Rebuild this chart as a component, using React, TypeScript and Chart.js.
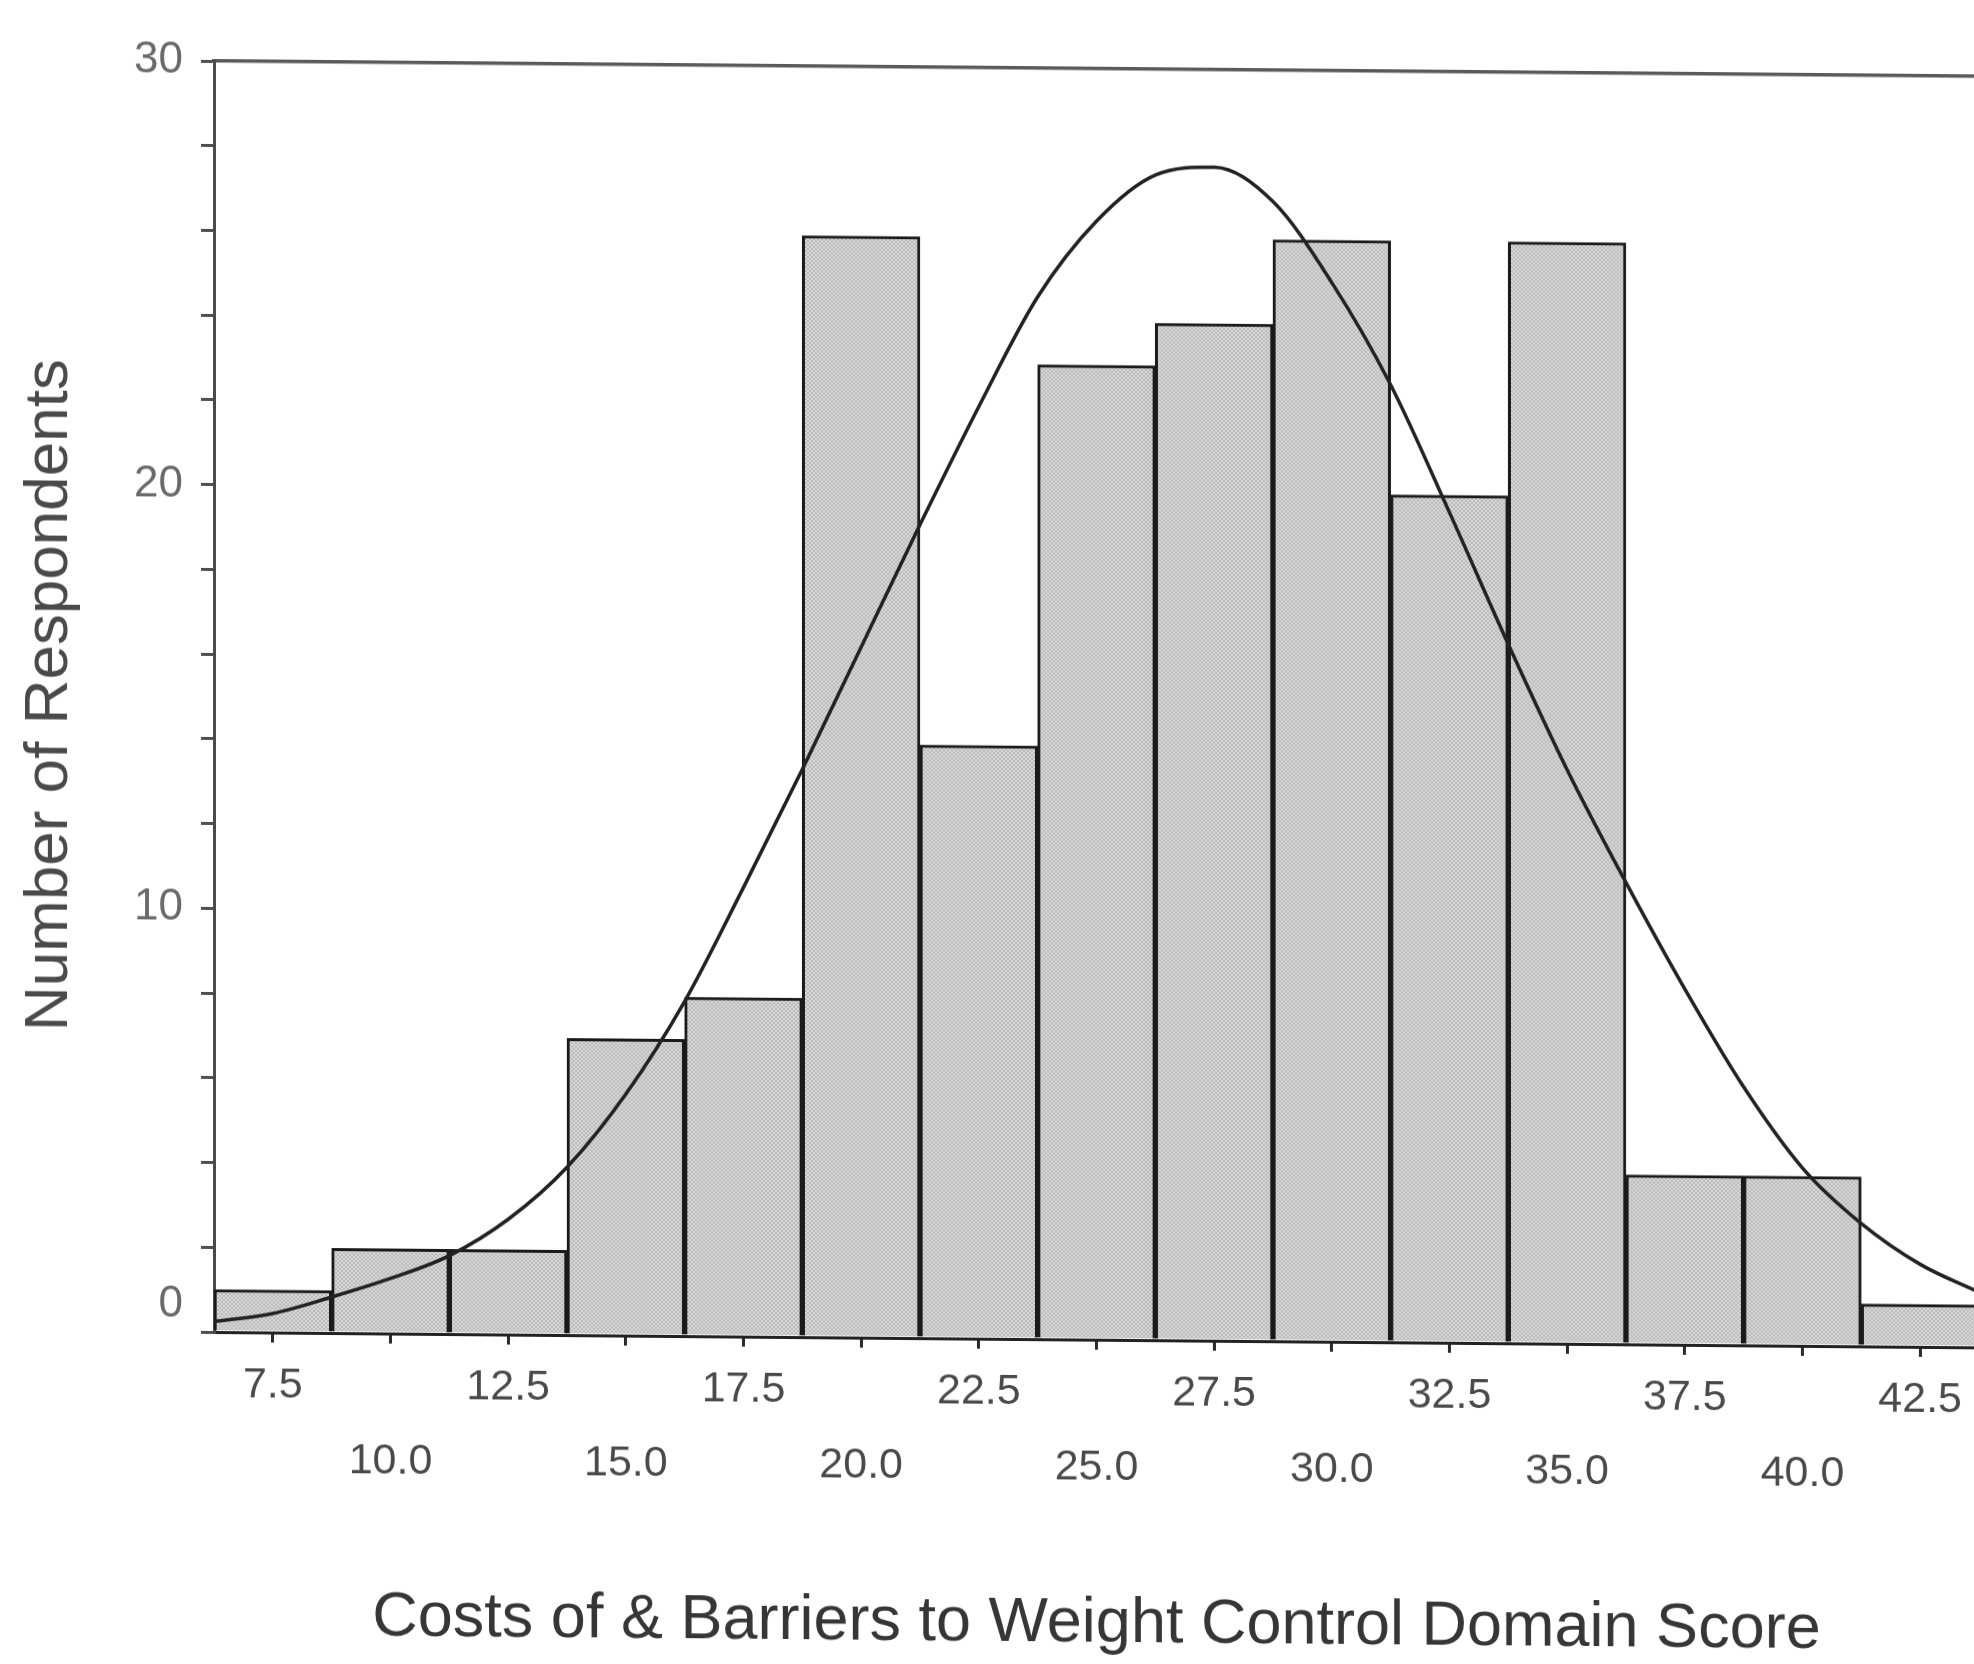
import React, { useEffect, useRef } from 'react';
import { Chart, registerables } from 'chart.js';

Chart.register(...registerables);

// ---- data ----
const categories = ['7.5', '10.0', '12.5', '15.0', '17.5', '20.0', '22.5', '25.0', '27.5', '30.0', '32.5', '35.0', '37.5', '40.0', '42.5'];
const counts = [1, 2, 2, 7, 8, 26, 14, 23, 24, 26, 20, 26, 4, 4, 1];

// normal curve at bin edges and centres
const curveX = [6.25, 7.5, 8.75, 10, 11.25, 12.5, 13.75, 15, 16.25, 17.5, 18.75, 20, 21.25, 22.5, 23.75, 25, 26.25, 27.5, 28.75, 30, 31.25, 32.5, 33.75, 35, 36.25, 37.5, 38.75, 40, 41.25, 42.5, 43.75];
const curveY = [0.25, 0.45, 0.85, 1.3, 1.85, 2.72, 3.96, 5.7, 7.9, 10.6, 13.4, 16.3, 19.2, 22.0, 24.6, 26.4, 27.5, 27.7, 26.9, 25.0, 22.6, 19.6, 16.5, 13.55, 10.9, 8.4, 6.1, 4.2, 2.9, 1.95, 1.3];

const yLabelValues = [0, 10, 20, 30];
const yMin = 0;
const yMax = 30;
const yStep = 2;
const binMin = 6.25;
const binMax = 43.75;

const yTitle = 'Number of Respondents';
const xTitle = 'Costs of & Barriers to Weight Control Domain Score';

const FONT = '"Liberation Sans", Arial, Helvetica, sans-serif';

function makePattern(): CanvasPattern | string {
  const c = document.createElement('canvas');
  c.width = 4;
  c.height = 4;
  const g = c.getContext('2d');
  if (!g) return '#cccccc';
  g.fillStyle = '#d9d9d9';
  g.fillRect(0, 0, 4, 4);
  g.fillStyle = '#b9b9b9';
  for (let i = 0; i < 4; i++) {
    g.fillRect(i, i, 1, 1);
    g.fillRect(3 - i, i, 1, 1);
  }
  return g.createPattern(c, 'repeat') ?? '#cccccc';
}

export default function App() {
  const ref = useRef<HTMLCanvasElement | null>(null);

  useEffect(() => {
    const canvas = ref.current;
    if (!canvas) return;
    const pattern = makePattern();

    const chart = new Chart(canvas, {
      type: 'bar',
      data: {
        labels: categories,
        datasets: [
          {
            type: 'line',
            data: curveX.map((x, i) => ({ x, y: curveY[i] })),
            xAxisID: 'xLine',
            yAxisID: 'y',
            borderColor: '#222222',
            borderWidth: 3.5,
            pointRadius: 0,
            cubicInterpolationMode: 'monotone',
            fill: false,
            order: 0,
          } as any,
          {
            type: 'bar',
            data: counts,
            xAxisID: 'x',
            yAxisID: 'y',
            backgroundColor: pattern as any,
            borderColor: '#1a1a1a',
            borderWidth: 3,
            barPercentage: 1,
            categoryPercentage: 1,
            grouped: false,
            order: 1,
          } as any,
        ],
      },
      options: {
        responsive: false,
        animation: false,
        devicePixelRatio: 1,
        layout: { padding: { left: 0, right: 9, top: 53, bottom: 0 } },
        plugins: {
          legend: { display: false },
          tooltip: { enabled: false },
          title: { display: false },
        },
        scales: {
          x: {
            type: 'category',
            position: 'bottom',
            offset: true,
            grid: {
              display: true,
              drawOnChartArea: false,
              drawTicks: true,
              tickLength: 10,
              offset: false,
              color: '#2a2a2a',
              lineWidth: 3,
            },
            border: { display: true, color: '#222222', width: 3 },
            ticks: {
              autoSkip: false,
              maxRotation: 0,
              minRotation: 0,
              padding: 6,
              color: '#4a4a4a',
              font: { family: FONT, size: 43, lineHeight: 1.74 },
              callback: (_v: any, i: number) => (i % 2 === 0 ? [categories[i], ''] : ['', categories[i]]),
            },
            title: {
              display: true,
              text: xTitle,
              color: '#363636',
              font: { family: FONT, size: 63, lineHeight: 1 },
              padding: { top: 0, bottom: 16 },
            },
            afterFit: (s: any) => {
              s.height = 332;
            },
          },
          xLine: {
            type: 'linear',
            position: 'top',
            min: binMin,
            max: binMax,
            offset: false,
            display: true,
            grid: { display: false, drawTicks: false, offset: false },
            ticks: { display: false },
            border: { display: true, color: '#5a5a5a', width: 3.5 },
          },
          y: {
            type: 'linear',
            position: 'left',
            min: yMin,
            max: yMax,
            ticks: {
              stepSize: yStep,
              autoSkip: false,
              padding: 18,
              color: '#6a6a6a',
              font: { family: FONT, size: 44, lineHeight: 1.23 },
              callback: (v: any) => {
                const n = Number(v);
                if (!yLabelValues.includes(n)) return '';
                return n === 0 ? [String(n), ''] : String(n);
              },
            },
            grid: {
              display: true,
              drawOnChartArea: false,
              drawTicks: true,
              tickLength: 13,
              color: '#505050',
              lineWidth: 3,
            },
            border: { display: true, color: '#4a4a4a', width: 3 },
            title: {
              display: true,
              text: yTitle,
              color: '#4a4a4a',
              font: { family: FONT, size: 62, lineHeight: 1 },
              padding: { top: 11, bottom: 0 },
            },
            afterFit: (s: any) => {
              s.width = 206;
            },
          },
        },
      } as any,
    });

    return () => {
      chart.destroy();
    };
  }, []);

  return (
    <div
      style={{
        position: 'absolute',
        left: 8,
        top: 8,
        width: 1966,
        height: 1656,
        overflow: 'hidden',
        background: '#ffffff',
      }}
    >
      <canvas
        ref={ref}
        width={1980}
        height={1656}
        style={{
          display: 'block',
          width: 1980,
          height: 1656,
          transform: 'skewY(0.5deg)',
          transformOrigin: '206px 0px',
        }}
      />
    </div>
  );
}
